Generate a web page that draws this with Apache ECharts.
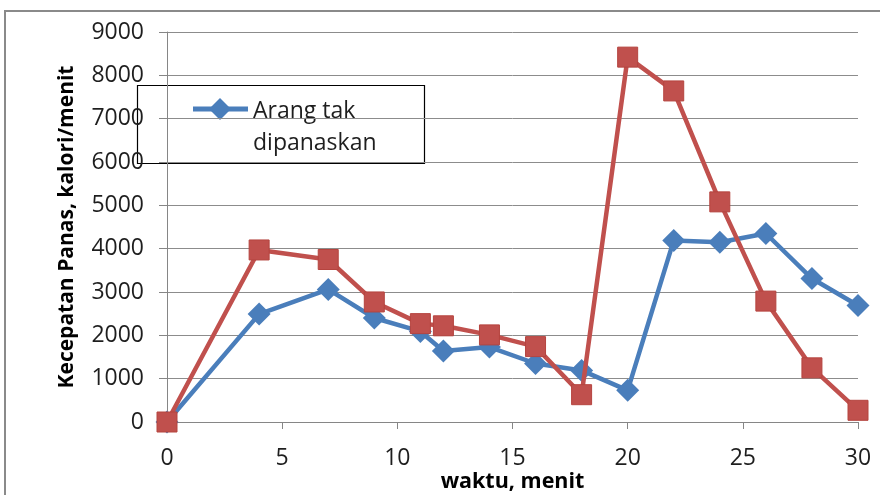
<!DOCTYPE html>
<html>
<head>
<meta charset="utf-8">
<script src="https://cdn.jsdelivr.net/npm/echarts@6/dist/echarts.min.js"></script>
<style>
html,body{margin:0;padding:0;background:#fff;}
#c{width:880px;height:495px;}
</style>
</head>
<body>
<div id="c"></div>
<script>
var waktu = [0, 4, 7, 9, 11, 12, 14, 16, 18, 20, 22, 24, 26, 28, 30];
var arangTakDipanaskan = [0, 2490, 3060, 2400, 2090, 1640, 1730, 1350, 1190, 730, 4190, 4150, 4350, 3310, 2690];
var arangDipanaskan = [0, 3970, 3750, 2770, 2270, 2220, 2010, 1740, 630, 8420, 7640, 5080, 2790, 1250, 270];
var xTicks = {min: 0, max: 30, interval: 5};
var yTicks = {min: 0, max: 9000, interval: 1000};
var namaSeri = ['Arang tak dipanaskan', 'Arang dipanaskan'];

var BLUE = '#4A7EBB', RED = '#C0504D';
function pairs(xs, ys){ return xs.map(function(x,i){ return [x, ys[i]]; }); }

var chart = echarts.init(document.getElementById('c'), null, {renderer:'canvas'});
var FONT = 'Open Sans';
chart.setOption({
  animation: false,
  backgroundColor: '#fff',
  textStyle: {fontFamily: FONT},
  grid: {left: 167, right: 22, top: 32, bottom: 73, containLabel: false, outerBoundsMode: 'none'},
  xAxis: {
    type: 'value', min: xTicks.min, max: xTicks.max, interval: xTicks.interval,
    name: 'waktu, menit', nameLocation: 'middle', nameGap: 49, nameMoveOverlap: false,
    nameTextStyle: {fontFamily: FONT, fontSize: 21.5, fontWeight: 'bold', color: '#000'},
    axisLine: {show: true, lineStyle: {color: '#868686', width: 1}},
    axisTick: {show: true, length: 7, lineStyle: {color: '#868686'}},
    axisLabel: {fontFamily: FONT, fontSize: 23, color: '#1e1e1e', margin: 25,
                formatter: function(v){ return String(v); }},
    splitLine: {show: false}
  },
  yAxis: {
    type: 'value', min: yTicks.min, max: yTicks.max, interval: yTicks.interval,
    name: 'Kecepatan Panas, kalori/menit', nameLocation: 'middle', nameGap: 89, nameMoveOverlap: false,
    nameTextStyle: {fontFamily: FONT, fontSize: 21, fontWeight: 'bold', color: '#000'},
    axisLine: {show: true, lineStyle: {color: '#868686', width: 1}},
    axisTick: {show: true, inside: false, length: 8, lineStyle: {color: '#868686'}},
    axisLabel: {fontFamily: FONT, fontSize: 23, color: '#1e1e1e', margin: 23,
                formatter: function(v){ return String(v); }},
    splitLine: {show: true, lineStyle: {color: '#8c8c8c', width: 1}}
  },
  legend: {show: false},
  series: [
    {
      name: namaSeri[0], type: 'line', data: pairs(waktu, arangTakDipanaskan),
      symbol: 'diamond', symbolSize: [23, 23],
      lineStyle: {color: BLUE, width: 4.5},
      itemStyle: {color: BLUE},
      z: 2
    },
    {
      name: namaSeri[1], type: 'line', data: pairs(waktu, arangDipanaskan),
      symbol: 'rect', symbolSize: 20,
      lineStyle: {color: RED, width: 4.5},
      itemStyle: {color: RED, borderColor: '#B5443F', borderWidth: 1},
      z: 3
    }
  ],
  graphic: [
    {type: 'rect', z: 0, silent: true, shape: {x: 5, y: 11, width: 1000, height: 1000},
     style: {fill: 'none', stroke: '#8a8a8a', lineWidth: 2}},
    {type: 'group', zlevel: 1, z: 100, children: [
      {type: 'rect', shape: {x: 137.5, y: 85.5, width: 287, height: 78},
       style: {fill: '#fff', stroke: '#000', lineWidth: 1.2}},
      {type: 'line', shape: {x1: 193, y1: 109, x2: 248, y2: 109},
       style: {stroke: BLUE, lineWidth: 5}},
      {type: 'polygon', shape: {points: [[220, 98], [231, 109], [220, 120], [209, 109]]},
       style: {fill: BLUE}},
      {type: 'text', x: 253, y: 95,
       style: {text: 'Arang tak\ndipanaskan', font: '23px "Open Sans"', lineHeight: 32, fill: '#1e1e1e'}}
    ]}
  ]
});
</script>
</body>
</html>
